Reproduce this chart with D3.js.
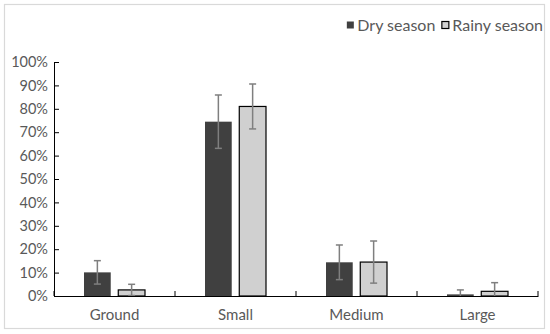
<!DOCTYPE html>
<html>
<head>
<meta charset="utf-8">
<script src="https://cdn.jsdelivr.net/npm/d3@7"></script>
<style>
  body { margin: 0; background: #fff; }
  text { font-family: "Noto Sans", "DejaVu Sans", sans-serif; }
</style>
</head>
<body>
<div id="chart"></div>
<script>
// DATA
var categories = ["Ground", "Small", "Medium", "Large"];
var seriesNames = ["Dry season", "Rainy season"];
var dryValues = [10.1, 74.5, 14.4, 0.7];
var dryErrors = [5.0, 11.4, 7.4, 1.9];
var rainyValues = [2.6, 81.0, 14.5, 2.0];
var rainyErrors = [2.4, 9.6, 9.0, 3.7];
var yTicks = [0, 10, 20, 30, 40, 50, 60, 70, 80, 90, 100];

var colors = ["#404040", "#d0d0d0"];

// SIZES
var svgWidth = 550;
var svgHeight = 334;
var margins = { top: 62, bottom: 38, left: 54, right: 12 };
var width = 538 - margins.left;
var height = 296 - margins.top;

var svg = d3.select("#chart")
    .append("svg")
        .attr("width", svgWidth)
        .attr("height", svgHeight);

// Frame around the whole chart
svg.append("rect")
    .attr("x", 4.5)
    .attr("y", 4.5)
    .attr("width", 540)
    .attr("height", 324)
    .attr("fill", "none")
    .attr("stroke", "#d9d9d9")
    .attr("stroke-width", 1.2);

var g = svg.append("g")
    .attr("transform", "translate(" + margins.left + "," + margins.top + ")");

// Scales
var xScale = d3.scaleBand()
    .domain(categories)
    .range([0, width]);

var inner = d3.scaleBand()
    .domain(seriesNames)
    .range([xScale.bandwidth() / 2 - 30.5, xScale.bandwidth() / 2 + 30.5])
    .paddingInner(0.22);

var yScale = d3.scaleLinear()
    .domain([0, 100])
    .range([height, 0]);

// Y axis
var yAxis = g.append("g")
    .call(d3.axisLeft(yScale)
        .tickValues(yTicks)
        .tickSize(-5)
        .tickPadding(12)
        .tickFormat(d => d + "%"));
yAxis.select(".domain").attr("stroke", "#000");
yAxis.selectAll("line").attr("stroke", "#000");
yAxis.selectAll("text")
    .attr("fill", "#595959")
    .style("font-size", "14.5px")
    .style("font-family", "Lato, sans-serif")
    .attr("dx", "6");

// Bars
var series = [
    { name: seriesNames[0], values: dryValues, errors: dryErrors, color: colors[0] },
    { name: seriesNames[1], values: rainyValues, errors: rainyErrors, color: colors[1] }
];

series.forEach(function(s, si) {
    var rows = categories.map(function(c, i) {
        return { cat: c, value: s.values[i], err: s.errors[i] };
    });

    g.selectAll(".bar" + si)
        .data(rows)
        .enter()
        .append("rect")
            .attr("x", d => xScale(d.cat) + inner(s.name))
            .attr("y", d => yScale(d.value))
            .attr("width", inner.bandwidth())
            .attr("height", d => height - yScale(d.value))
            .attr("fill", s.color)
            .attr("stroke", si == 1 ? "#000" : "none")
            .attr("stroke-width", 1.2);

    // Error bars
    var cx = d => xScale(d.cat) + inner(s.name) + inner.bandwidth() / 2;
    var eb = g.selectAll(".err" + si)
        .data(rows)
        .enter()
        .append("g")
            .attr("stroke", "#7f7f7f")
            .attr("stroke-width", 1.5);
    eb.append("line")
        .attr("x1", cx).attr("x2", cx)
        .attr("y1", d => yScale(d.value + d.err))
        .attr("y2", d => yScale(Math.max(0, d.value - d.err)));
    eb.append("line")
        .attr("x1", d => cx(d) - 3.5).attr("x2", d => cx(d) + 3.5)
        .attr("y1", d => yScale(d.value + d.err))
        .attr("y2", d => yScale(d.value + d.err));
    eb.filter(d => d.value - d.err > 0).append("line")
        .attr("x1", d => cx(d) - 3.5).attr("x2", d => cx(d) + 3.5)
        .attr("y1", d => yScale(d.value - d.err))
        .attr("y2", d => yScale(d.value - d.err));
});

// X axis
var xAxis = g.append("g")
    .attr("transform", "translate(0," + height + ")")
    .call(d3.axisBottom(xScale).tickSize(0).tickPadding(13));
xAxis.select(".domain").attr("stroke", "#000");
xAxis.selectAll("text")
    .attr("fill", "#595959")
    .style("font-size", "15px")
    .style("font-family", "Lato, sans-serif");

// Category boundary ticks (pointing up)
var bounds = categories.map(c => xScale(c)).concat([width]);
g.selectAll(".xtick")
    .data(bounds)
    .enter()
    .append("line")
        .attr("x1", d => d).attr("x2", d => d)
        .attr("y1", height - 5).attr("y2", height)
        .attr("stroke", "#000");

// Legend (laid out right to left, ending near the frame)
var legend = svg.append("g");
var items = legend.selectAll("g")
    .data(series)
    .enter()
    .append("g");
items.append("rect")
    .attr("x", 0.5)
    .attr("y", 21.5)
    .attr("width", 7)
    .attr("height", 7)
    .attr("fill", d => d.color)
    .attr("stroke", (d, i) => i == 1 ? "#000" : "none")
    .attr("stroke-width", 1.2);
items.append("text")
    .attr("x", 11)
    .attr("y", 25)
    .attr("dy", "0.35em")
    .attr("fill", "#595959")
    .style("font-size", "16px")
    .style("font-family", "Lato, sans-serif")
    .text(d => d.name);

var xPos = 543;
var nodes = items.nodes();
for (var i = nodes.length - 1; i >= 0; i--) {
    var w = 11 + d3.select(nodes[i]).select("text").node().getComputedTextLength();
    xPos -= w;
    d3.select(nodes[i]).attr("transform", "translate(" + xPos + ",0)");
    xPos -= 6;
}
</script>
</body>
</html>
